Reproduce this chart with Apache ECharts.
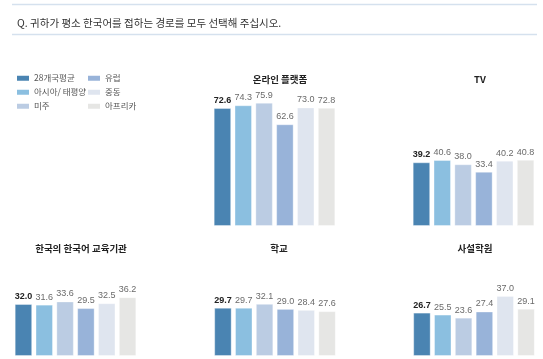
<!DOCTYPE html>
<html><head><meta charset="utf-8">
<script src="https://cdn.jsdelivr.net/npm/echarts@6/dist/echarts.min.js"></script>
<style>html,body{margin:0;padding:0;background:#fff}#c{width:543px;height:359px}</style>
</head><body><div id="c"></div>
<script>
const regions = ['28개국평균', '아시아/ 태평양', '미주', '유럽', '중동', '아프리카'];
const colors = ['#4a84b2', '#8bbfe0', '#bbcce3', '#98b3d9', '#dfe5ef', '#e6e6e4'];
const panelTitles = ['온라인 플랫폼', 'TV', '한국의 한국어 교육기관', '학교', '사설학원'];
const online = [72.6, 74.3, 75.9, 62.6, 73.0, 72.8];
const tv = [39.2, 40.6, 38.0, 33.4, 40.2, 40.8];
const koreaInst = [32.0, 31.6, 33.6, 29.5, 32.5, 36.2];
const school = [29.7, 29.7, 32.1, 29.0, 28.4, 27.6];
const academy = [26.7, 25.5, 23.6, 27.4, 37.0, 29.1];
const panels = [online, tv, koreaInst, school, academy];
const question = 'Q. 귀하가 평소 한국어를 접하는 경로를 모두 선택해 주십시오.';

const gridPos = [
  {left: 213, top: 63.5},
  {left: 412, top: 63.5},
  {left: 14, top: 193.5},
  {left: 213.5, top: 193.5},
  {left: 412.5, top: 193.5}
];
const titlePos = [
  {x: 275, y: 70}, {x: 475, y: 70}, {x: 76, y: 239}, {x: 274, y: 239}, {x: 470, y: 239}
];
const numFont = 'Liberation Sans, Arial, sans-serif';
const krFont = 'Noto Sans CJK KR, sans-serif';

const grids = [], xAxes = [], yAxes = [], series = [], titles = [];
panels.forEach((vals, gi) => {
  grids.push({left: gridPos[gi].left, top: gridPos[gi].top, width: 123, height: 162.5});
  xAxes.push({type: 'category', gridIndex: gi, data: [''], show: false});
  yAxes.push({type: 'value', gridIndex: gi, min: 0, max: 100, show: false});
  titles.push({text: panelTitles[gi], left: titlePos[gi].x, top: titlePos[gi].y, textAlign: 'center',
    textStyle: {fontFamily: krFont, fontSize: 9.5, fontWeight: 'bold', color: '#222'}});
  vals.forEach((v, si) => {
    series.push({
      type: 'bar', name: regions[si], xAxisIndex: gi, yAxisIndex: gi,
      data: [v], barWidth: 17.5, barGap: '19%',
      itemStyle: {color: colors[si], borderColor: 'rgba(255,255,255,0.35)', borderWidth: 1},
      label: {show: true, position: 'top', distance: 3,
        formatter: p => p.value.toFixed(1),
        fontFamily: numFont, fontSize: 9,
        fontWeight: si === 0 ? 'bold' : 'normal',
        color: si === 0 ? '#222' : '#6a6a6a'},
      emphasis: {disabled: true}, animation: false
    });
  });
});
titles.push({text: question, left: 12, top: 13,
  textStyle: {fontFamily: krFont, fontSize: 10.5, fontWeight: 'normal', color: '#333'}});

const legendCommon = {orient: 'vertical', itemWidth: 12, itemHeight: 5, itemGap: 5.5, icon: 'rect',
  textStyle: {fontFamily: krFont, fontSize: 8.5, color: '#555', padding: [0, 0, 0, 0]}, itemStyle: {borderWidth: 0}};
const chart = echarts.init(document.getElementById('c'));
chart.setOption({
  animation: false,
  title: titles,
  legend: [
    Object.assign({left: 12, top: 69, data: regions.slice(0, 3)}, legendCommon),
    Object.assign({left: 83, top: 69, data: regions.slice(3)}, legendCommon)
  ],
  grid: grids, xAxis: xAxes, yAxis: yAxes, series: series,
  graphic: [
    {type: 'line', shape: {x1: 12, y1: 4.5, x2: 537, y2: 4.5}, style: {stroke: '#d5e1ee', lineWidth: 1.5}},
    {type: 'line', shape: {x1: 12, y1: 34.5, x2: 537, y2: 34.5}, style: {stroke: '#d5e1ee', lineWidth: 1.5}}
  ]
});
</script></body></html>
